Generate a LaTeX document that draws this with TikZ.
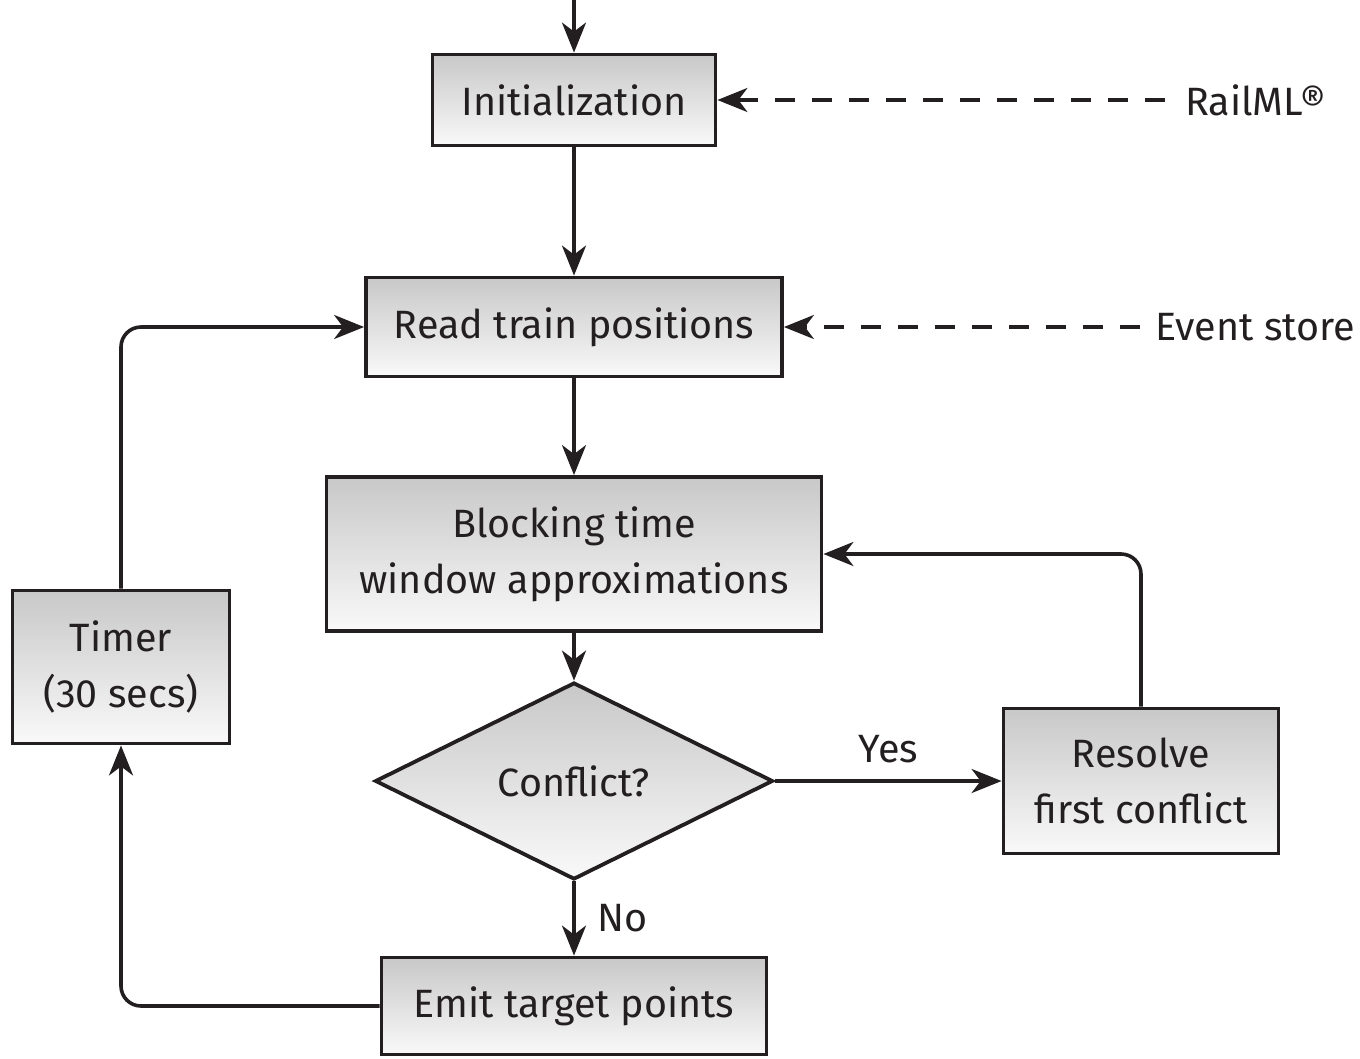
\documentclass[tikz,border=0pt]{standalone}
\usepackage{fontspec}
\setmainfont{Fira Sans}
\usetikzlibrary{arrows.meta,shapes.geometric}
\definecolor{ink}{HTML}{231F20}
\definecolor{topg}{HTML}{C8C8C8}
\definecolor{botg}{HTML}{F9F9F9}
\begin{document}
\begin{tikzpicture}[x=1pt,y=-1pt,
  every node/.style={font=\fontsize{39.5}{56}\selectfont, text=ink},
  procbox/.style={draw=ink, line width=3.8pt, top color=topg, bottom color=botg,
    inner sep=0pt, align=center},
  decbox/.style={shape=diamond, draw=ink, line width=3.8pt, top color=topg, bottom color=botg,
    inner sep=0pt, aspect=2, minimum width=398pt, minimum height=197pt},
  arr/.style={draw=ink, line width=3.6pt, -{Stealth[length=30pt,width=24pt,inset=9pt]}},
  dasharr/.style={arr, dash pattern=on 20pt off 17pt},
  loop/.style={arr, rounded corners=20pt}]
\useasboundingbox (0,0) rectangle (1360,1058);

\node[procbox, minimum width=283pt, minimum height=91pt] (init) at (574,100) {Initialization};
\node[procbox, minimum width=416pt, minimum height=99pt] (read) at (574,327) {Read train positions};
\node[procbox, minimum width=495pt, minimum height=154pt] (block) at (574,554) {Blocking time\\window approximations};
\node[decbox] (conf) at (574,781) {Conflict?};
\node[procbox, minimum width=275pt, minimum height=145pt] (res) at (1141,781) {Resolve\\first conflict};
\node[procbox, minimum width=385pt, minimum height=97pt] (emit) at (574,1006) {Emit target points};
\node[procbox, minimum width=217pt, minimum height=153pt] (timer) at (121,667) {Timer\\(30 secs)};

\node[anchor=west, inner sep=0pt] (rail) at (1185,100) {RailML®};
\node[anchor=west, inner sep=0pt] (ev) at (1155,327) {Event store};

\coordinate (start) at (574,0);
\draw[arr] (start) -- (init);
\draw[arr] (init) -- (read);
\draw[arr] (read) -- (block);
\draw[arr] (block) -- (conf);
\draw[arr] (conf) -- node[right, inner sep=0pt, xshift=22pt, pos=0.5] (no) {No} (emit);
\draw[arr] (conf.east) -- node[above, inner sep=0pt, yshift=16pt, pos=0.5] (yes) {Yes} (res.west);
\draw[loop] (res.north) |- (block.east);
\draw[loop] (emit.west) -| (timer.south);
\draw[loop] (timer.north) |- (read.west);
\draw[dasharr] ([xshift=-20pt]rail.west) -- (init.east);
\draw[dasharr] ([xshift=-15pt]ev.west) -- (read.east);
\end{tikzpicture}
\end{document}
